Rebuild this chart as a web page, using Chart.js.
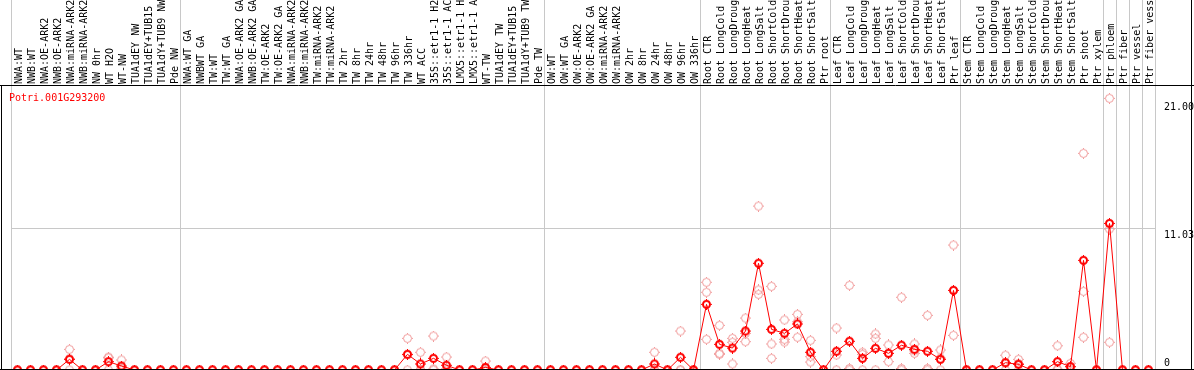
<!DOCTYPE html>
<html>
<head>
<meta charset="utf-8">
<script src="https://cdn.jsdelivr.net/npm/chart.js@4.4.1/dist/chart.umd.min.js"></script>
<style>
  html, body { margin: 0; padding: 0; background: #fff; }
  #wrap { width: 1194px; height: 370px; }
</style>
</head>
<body>
<div id="wrap"><canvas id="chart" width="1194" height="370"></canvas></div>
<script>
// sample names, left to right
const categories = [
  'NWA:WT', 'NWB:WT', 'NWA:OE-ARK2', 'NWB:OE-ARK2', 'NWA:miRNA-ARK2', 'NWB:miRNA-ARK2', 'NW 0hr', 'WT H2O', 'WT-NW', 'TUA1dEY NW',
  'TUA1dEY+TUB15', 'TUA1dY+TUB9 NW', 'Pde NW', 'NWA:WT GA', 'NWBWT GA', 'TW:WT', 'TW:WT GA', 'NWA:OE-ARK2 GA', 'NWB:OE-ARK2 GA', 'TW:OE-ARK2',
  'TW:OE-ARK2 GA', 'NWA:miRNA-ARK2', 'NWB:miRNA-ARK2', 'TW:miRNA-ARK2', 'TW:miRNA-ARK2', 'TW 2hr', 'TW 8hr', 'TW 24hr', 'TW 48hr', 'TW 96hr',
  'TW 336hr', 'WT ACC', '35S::etr1-1 H2O', '35S::etr1-1 ACC', 'LMX5::etr1-1 H2O', 'LMX5::etr1-1 ACC', 'WT-TW', 'TUA1dEY TW', 'TUA1dEY+TUB15', 'TUA1dY+TUB9 TW',
  'Pde TW', 'OW:WT', 'OW:WT GA', 'OW:OE-ARK2', 'OW:OE-ARK2 GA', 'OW:miRNA-ARK2', 'OW:miRNA-ARK2', 'OW 2hr', 'OW 8hr', 'OW 24hr',
  'OW 48hr', 'OW 96hr', 'OW 336hr', 'Root CTR', 'Root LongCold', 'Root LongDrought', 'Root LongHeat', 'Root LongSalt', 'Root ShortCold', 'Root ShortDrought',
  'Root ShortHeat', 'Root ShortSalt', 'Ptr root', 'Leaf CTR', 'Leaf LongCold', 'Leaf LongDrought', 'Leaf LongHeat', 'Leaf LongSalt', 'Leaf ShortCold', 'Leaf ShortDrought',
  'Leaf ShortHeat', 'Leaf ShortSalt', 'Ptr leaf', 'Stem CTR', 'Stem LongCold', 'Stem LongDrought', 'Stem LongHeat', 'Stem LongSalt', 'Stem ShortCold', 'Stem ShortDrought',
  'Stem ShortHeat', 'Stem ShortSalt', 'Ptr shoot', 'Ptr xylem', 'Ptr phloem', 'Ptr fiber', 'Ptr vessel', 'Ptr fiber vessel'
];

// mean expression (red line)
const meanValues = [
  0, 0, 0, 0, 0.83, 0, 0, 0.65, 0.31, 0,
  0, 0, 0, 0, 0, 0, 0, 0, 0, 0,
  0, 0, 0, 0, 0, 0, 0, 0, 0, 0,
  1.22, 0.47, 0.91, 0.37, 0, 0, 0.2, 0, 0, 0,
  0, 0, 0, 0, 0, 0, 0, 0, 0, 0.47,
  0, 0.99, 0, 5.12, 2.0, 1.71, 3.04, 8.32, 3.17, 2.86,
  3.59, 1.38, 0, 1.46, 2.24, 0.91, 1.69, 1.3, 1.93, 1.61,
  1.46, 0.83, 6.21, 0, 0, 0, 0.57, 0.44, 0, 0,
  0.65, 0.26, 8.55, 0, 11.43, 0, 0, 0
];

// replicates (pink circles)
const rep1 = [
  0, 0, 0, 0, 1.61, 0, 0, 1.0, 0.78, 0,
  0, 0, 0, 0, 0, 0, 0, 0, 0, 0,
  0, 0, 0, 0, 0, 0, 0, 0, 0, 0,
  2.47, 1.38, 2.65, 1.01, 0, 0, 0.7, 0, 0, 0,
  0, 0, 0, 0, 0, 0, 0, 0, 0, 1.38,
  0, 3.04, 0, 6.84, 3.48, 2.47, 4.05, 12.78, 6.52, 3.9,
  4.34, 2.31, 0, 3.27, 6.6, 1.38, 2.81, 1.95, 5.67, 2.03,
  4.26, 1.56, 9.74, 0, 0, 0, 1.15, 0.83, 0, 0,
  1.89, 0.52, 16.89, 0, 21.18, 0, 0, 0
];
const rep2 = [
  0, 0, 0, 0, 0.88, 0, 0, 0.95, 0.15, 0,
  0, 0, 0, 0, 0, 0, 0, 0, 0, 0,
  0, 0, 0, 0, 0, 0, 0, 0, 0, 0,
  1.19, 0.03, 0.08, 0.1, 0, 0, 0, 0, 0, 0,
  0, 0, 0, 0, 0, 0, 0, 0, 0, 0.03,
  0, 0, 0, 6.06, 1.3, 2.16, 2.86, 6.24, 2.03, 2.39,
  3.76, 1.04, 0, 1.17, 0.12, 1.22, 2.47, 1.3, 0.12, 1.5,
  0.12, 0.93, 6.2, 0, 0, 0, 0.56, 0.5, 0, 0,
  0.06, 0.26, 6.13, 0, 10.99, 0, 0, 0
];
const rep3 = [
  0, 0, 0, 0, 0, 0, 0, 0, 0, 0,
  0, 0, 0, 0, 0, 0, 0, 0, 0, 0,
  0, 0, 0, 0, 0, 0, 0, 0, 0, 0,
  0, 0, 0, 0, 0, 0, 0, 0, 0, 0,
  0, 0, 0, 0, 0, 0, 0, 0, 0, 0,
  0, 0, 0, 2.39, 1.22, 0.47, 2.21, 5.9, 0.91, 2.18,
  2.55, 0.62, 0, 0, 0, 0, 0, 0.65, 0, 1.3,
  0, 0, 2.7, 0, 0, 0, 0, 0, 0, 0,
  0, 0, 2.55, 0, 2.16, 0, 0, 0
];

const yTickValues = [0, 11.03, 21.00];
const yTickLabels = ['0', '11.03', '21.00'];
const geneName = 'Potri.001G293200';

// first sample of each group (a grey separator is drawn before it)
const groupStarts = [0, 13, 41, 53, 63, 73, 84, 85, 86, 87];

const FONT = '10px "DejaVu Sans Mono", monospace';
const SEP = '#c8c8c8';

function marker(color, r, lw) {
  const c = document.createElement('canvas');
  c.width = 11; c.height = 11;
  const g = c.getContext('2d');
  g.strokeStyle = color;
  g.lineWidth = lw;
  g.beginPath();
  g.arc(5.5, 5.5, r, 0, Math.PI * 2);
  g.stroke();
  // little crosshair ticks outside the ring
  g.fillStyle = color;
  g.fillRect(5, 0, 1, 1);
  g.fillRect(5, 10, 1, 1);
  g.fillRect(0, 5, 1, 1);
  g.fillRect(10, 5, 1, 1);
  return c;
}
const redMark = marker('#ff0000', 3.5, 2);
const pinkMark = marker('#f09a9a', 4, 1);

const overlay = {
  id: 'overlay',
  afterDraw(chart) {
    const ctx = chart.ctx;
    const y = chart.scales.y;
    ctx.save();
    // frame
    ctx.strokeStyle = '#000';
    ctx.lineWidth = 1;
    ctx.beginPath();
    ctx.moveTo(0, 85.5); ctx.lineTo(1194, 85.5);
    ctx.moveTo(1.5, 85); ctx.lineTo(1.5, 370);
    ctx.moveTo(1191.5, 0); ctx.lineTo(1191.5, 370);
    ctx.moveTo(0, 369.5); ctx.lineTo(1194, 369.5);
    ctx.stroke();
    // y labels
    ctx.font = FONT;
    ctx.fillStyle = '#000';
    ctx.textAlign = 'left';
    ctx.textBaseline = 'alphabetic';
    yTickValues.forEach((v, i) => {
      const py = y.getPixelForValue(v);
      const ty = v === 0 ? py - 4 : py + 9;
      ctx.fillText(yTickLabels[i], 1164, ty);
    });
    // gene name
    ctx.fillStyle = '#ff0000';
    ctx.fillText(geneName, 9, 101);
    ctx.restore();
  }
};

new Chart(document.getElementById('chart'), {
  type: 'line',
  data: {
    labels: categories,
    datasets: [
      {
        data: meanValues,
        order: 0,
        borderColor: '#ff0000',
        borderWidth: 1,
        tension: 0,
        pointStyle: redMark,
        pointRadius: 5
      },
      { data: rep1, order: 1, showLine: false, pointStyle: pinkMark, pointRadius: 5 },
      { data: rep2, order: 1, showLine: false, pointStyle: pinkMark, pointRadius: 5 },
      { data: rep3, order: 1, showLine: false, pointStyle: pinkMark, pointRadius: 5 }
    ]
  },
  options: {
    responsive: false,
    animation: false,
    devicePixelRatio: 1,
    events: [],
    layout: { autoPadding: false, padding: { left: 11, right: 0, top: 0, bottom: 0 } },
    plugins: { legend: { display: false }, tooltip: { enabled: false } },
    scales: {
      x: {
        type: 'category',
        position: 'top',
        offset: true,
        border: { display: false },
        grid: {
          offset: true,
          drawTicks: true,
          tickLength: 86,
          lineWidth: 1,
          color: c => (c.index === undefined || groupStarts.includes(c.index)) ? SEP : 'rgba(0,0,0,0)'
        },
        ticks: {
          autoSkip: false,
          minRotation: 90,
          maxRotation: 90,
          padding: -84,
          labelOffset: 14,
          color: '#000',
          font: { family: '"DejaVu Sans Mono", monospace', size: 10 }
        },
        afterFit: s => { s.height = 86; }
      },
      y: {
        position: 'right',
        min: 0,
        max: 22.14,
        border: { display: false },
        grid: {
          drawTicks: false,
          color: c => (c.tick && c.tick.value === 11.03) ? SEP : 'rgba(0,0,0,0)'
        },
        ticks: { display: false },
        afterBuildTicks: s => { s.ticks = yTickValues.map(v => ({ value: v })); },
        afterFit: s => { s.width = 39; }
      }
    }
  },
  plugins: [overlay]
});
</script>
</body>
</html>
